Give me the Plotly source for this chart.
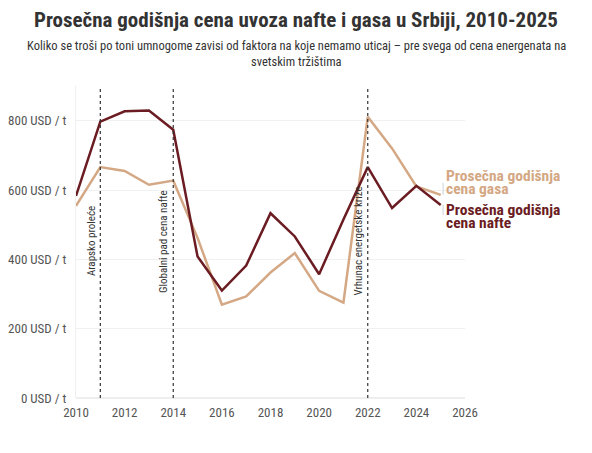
import plotly.graph_objects as go

# podaci (USD po toni)
years = list(range(2010, 2026))
oil_price = [583, 797, 827, 829, 774, 408, 310, 382, 533, 466, 357, 515, 666, 548, 612, 557]
gas_price = [554, 666, 655, 615, 627, 462, 269, 293, 362, 418, 309, 275, 811, 720, 610, 586]

event_years = [2011, 2014, 2022]
event_labels = ['Arapsko proleće', 'Globalni pad cena nafte', 'Vrhunac energetske krize']

y_ticks = [0, 200, 400, 600, 800]
y_tick_text = [f'{v} USD / t' for v in y_ticks]
x_ticks = list(range(2010, 2027, 2))

OIL = '#6b1c22'
GAS = '#d4a884'
FONT = 'Roboto Condensed, Liberation Sans Narrow, DejaVu Sans Condensed, Roboto'

fig = go.Figure()

fig.add_trace(go.Scatter(x=years, y=gas_price, mode='lines',
                         line=dict(color=GAS, width=2.5), name='Prosečna godišnja cena gasa'))
fig.add_trace(go.Scatter(x=years, y=oil_price, mode='lines',
                         line=dict(color=OIL, width=2.5), name='Prosečna godišnja cena nafte'))

# dogadjaji - isprekidane linije
for yr, lbl in zip(event_years, event_labels):
    fig.add_shape(type='line', x0=yr, x1=yr, y0=0, y1=900, xref='x', yref='y',
                  line=dict(color='#333333', width=1.2, dash='dot'))
    fig.add_annotation(x=yr, y=452, text=lbl, textangle=-90, showarrow=False,
                       xanchor='right', yanchor='middle', xshift=-1,
                       font=dict(family=FONT, size=11, color='#333333'))

# oznake serija desno (svaki red posebno zbog proreda)
labels = [('Prosečna godišnja', 641, GAS), ('cena gasa', 602, GAS),
          ('Prosečna godišnja', 543, OIL), ('cena nafte', 505, OIL)]
for txt, yv, col in labels:
    fig.add_annotation(x=years[-1], y=yv, text=f'<b>{txt}</b>', showarrow=False,
                       xanchor='left', yanchor='middle', xshift=3, align='left',
                       font=dict(family=FONT, size=15.5, color=col))
fig.add_shape(type='line', x0=2025.1, x1=2025.1, y0=586, y1=621, line=dict(color='#ccd3d9', width=1))
fig.add_shape(type='line', x0=2025.1, x1=2025.1, y0=528, y1=557, line=dict(color='#ccd3d9', width=1))

# naslov i podnaslov (x centriran na sredinu slike)
fig.add_annotation(xref='paper', yref='paper', x=0.566, y=1.2115, xanchor='center', yanchor='middle',
                   text='<b>Prosečna godišnja cena uvoza nafte i gasa u Srbiji, 2010-2025</b>',
                   showarrow=False, font=dict(family=FONT, size=21, color='#333333'))
sub_lines = ['Koliko se troši po toni umnogome zavisi od faktora na koje nemamo uticaj – pre svega od cena energenata na',
             'svetskim tržištima']
for txt, yp in zip(sub_lines, [1.1314, 1.0801]):
    fig.add_annotation(xref='paper', yref='paper', x=0.566, y=yp, xanchor='center', yanchor='middle',
                       text=txt, showarrow=False, font=dict(family=FONT, size=12.5, color='#333333'))

# stranica ima 8px margine, pa su margine pomerene za toliko
fig.update_layout(
    width=592, height=453,
    margin=dict(l=68, r=135, t=78, b=63),
    plot_bgcolor='white', paper_bgcolor='white',
    showlegend=False,
    font=dict(family=FONT, size=12, color='#555555'),
)

fig.update_xaxes(range=[2010, 2026], tickvals=x_ticks, showgrid=False, zeroline=False,
                 showline=False, ticks='', automargin=False, ticklabelstandoff=5,
                 tickfont=dict(size=13, color='#555555'))
fig.update_yaxes(range=[0, 900], tickvals=y_ticks, ticktext=y_tick_text, showgrid=True,
                 gridcolor='#f0f0f0', zeroline=True, zerolinecolor='#eeeeee',
                 showline=True, linecolor='#f0f0f0', ticks='', ticklabelstandoff=6, automargin=False,
                 tickfont=dict(size=13, color='#555555'))

fig.write_html("out.html")
